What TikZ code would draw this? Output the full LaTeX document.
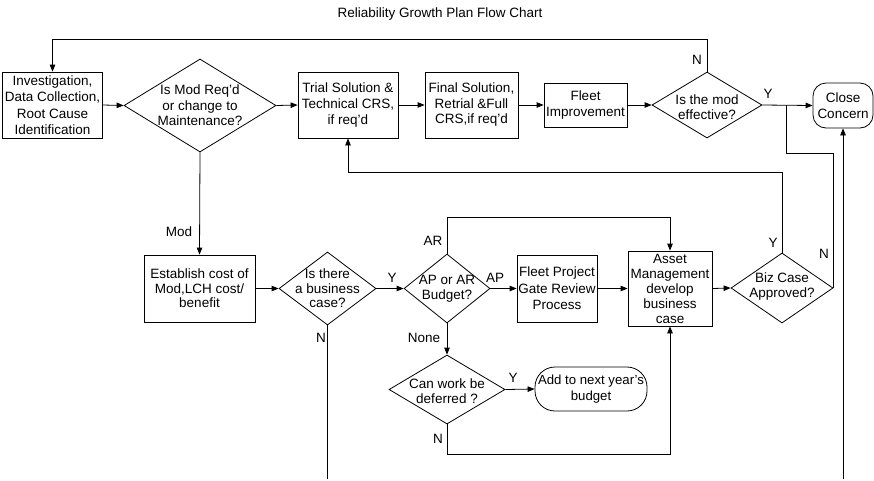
\documentclass[tikz,border=0pt]{standalone}
\usepackage{fontspec}
\setmainfont{Liberation Sans}
\usetikzlibrary{arrows.meta,shapes.geometric}

\tikzset{
  base/.style={font=\fontsize{13.5}{15.5}\selectfont, text=black},
  box/.style={base, draw, line width=0.8pt, rectangle, inner sep=0pt, align=center},
  term/.style={box, rounded corners=#1},
  dia/.style={draw, line width=0.8pt, diamond, inner sep=0pt},
  dtext/.style={base, align=center, inner sep=0pt},
  lbl/.style={base, inner sep=0pt},
  link/.style={draw, line width=0.8pt},
  arr/.style={link, -{Triangle[length=7pt,width=5.5pt]}},
}

\begin{document}
\begin{tikzpicture}[x=1pt,y=-1pt]
\useasboundingbox (0,0) rectangle (874,480);

\node[lbl] (title) at (440,14) {Reliability Growth Plan Flow Chart};

% top row
\node[box, minimum width=100pt, minimum height=66pt, font=\fontsize{13.5}{16.5}\selectfont] (inv) at (52.5,105)
  {Investigation,\\Data Collection,\\Root Cause\\Identification};
\node[dia, minimum width=152pt, minimum height=93pt] (d1) at (200,105.5) {};
\node[dtext] (d1t) at (d1) {Is Mod Req'd\\or change to\\Maintenance?};
\node[box, minimum width=100pt, minimum height=66pt, font=\fontsize{13.5}{16}\selectfont] (trial) at (348,105)
  {Trial Solution \&\\Technical CRS,\\if req'd};
\node[box, minimum width=93pt, minimum height=66pt] (final) at (471.5,105)
  {Final Solution,\\Retrial \&Full\\CRS,if req'd};
\node[box, minimum width=83pt, minimum height=44pt] (fleet) at (585.5,105)
  {Fleet\\Improvement};
\node[dia, minimum width=110pt, minimum height=66pt] (eff) at (707,105) {};
\node[dtext] (efft) at (707,107) {Is the mod\\effective?};
\node[term=13pt, minimum width=60pt, minimum height=45pt] (close) at (843,105.5)
  {Close\\Concern};

% middle row
\node[box, minimum width=111pt, minimum height=67pt, font=\fontsize{13.5}{14.5}\selectfont] (est) at (199.5,288.5)
  {Establish cost of\\Mod,LCH cost/\\benefit};
\node[dia, minimum width=97pt, minimum height=73pt] (biz) at (327.5,288.5) {};
\node[dtext, font=\fontsize{13.5}{14.5}\selectfont] (bizt) at (biz) {Is there\\a business\\case?};
\node[dia, minimum width=86pt, minimum height=69pt] (apar) at (447,288.5) {};
\node[dtext] (apart) at (447,288.5) {AP or AR\\Budget?};
\node[box, minimum width=80pt, minimum height=67pt, font=\fontsize{13.5}{16.5}\selectfont] (fpg) at (557,288.5)
  {Fleet Project\\Gate Review\\Process};
\node[box, minimum width=84pt, minimum height=75pt, font=\fontsize{13.5}{15}\selectfont] (asset) at (670,288.5)
  {Asset\\Management\\develop\\business\\case};
\node[dia, minimum width=102pt, minimum height=70pt] (bca) at (782,288) {};
\node[dtext] (bcat) at (782,286.5) {Biz Case\\Approved?};

% bottom row
\node[dia, minimum width=116pt, minimum height=69pt] (defer) at (447,389.5) {};
\node[dtext] (defert) at (447,391) {Can work be\\deferred ?};
\node[term=20pt, minimum width=112pt, minimum height=44pt, font=\fontsize{13.2}{15.5}\selectfont] (add) at (591,389)
  {Add to next year's\\budget};

% guide coordinates for routed connectors
\coordinate (topy) at (0,39);
\coordinate (ary) at (0,217);
\coordinate (tby) at (0,172);
\coordinate (nby) at (0,153);
\coordinate (dfy) at (0,454);
\coordinate (join) at (786,105);
\coordinate (bizend) at (327.5,479);
\coordinate (closeend) at (843,479);

% connectors
\draw[arr] (inv.east) -- (d1.west);
\draw[arr] (d1.east) -- (trial.west);
\draw[arr] (trial.east) -- (final.west);
\draw[arr] (final.east) -- (fleet.west);
\draw[arr] (fleet.east) -- (eff.west);
\draw[arr] (eff.east) -- (close.west);
\draw[arr] (eff.north) -- (eff.north |- topy) -| (inv.north);
\draw[arr] (d1.south) -- (est.north);
\draw[arr] (est.east) -- (biz.west);
\draw[arr] (biz.east) -- (apar.west);
\draw[link] (biz.south) -- (bizend);
\draw[arr] (apar.east) -- (fpg.west);
\draw[arr] (apar.north) -- (apar.north |- ary) -| (asset.north);
\draw[arr] (fpg.east) -- (asset.west);
\draw[arr] (asset.east) -- (bca.west);
\draw[arr] (apar.south) -- (defer.north);
\draw[arr] (defer.east) -- (add.west);
\draw[arr] (defer.south) -- (defer.south |- dfy) -| (asset.south);
\draw[arr] (bca.north) -- (bca.north |- tby) -| (trial.south);
\draw[link] (bca.east) -- (bca.east |- nby) -| (join);
\draw[arr] (closeend) -- (close.south);

% branch labels
\node[lbl] (lN1) at (697,60) {N};
\node[lbl] (lY1) at (768,94) {Y};
\node[lbl] (lMod) at (179,232) {Mod};
\node[lbl] (lY2) at (392,278) {Y};
\node[lbl] (lN2) at (321,338) {N};
\node[lbl] (lAR) at (433,241) {AR};
\node[lbl] (lAP) at (495,278) {AP};
\node[lbl] (lNone) at (424,338) {None};
\node[lbl] (lY3) at (513,378) {Y};
\node[lbl] (lN3) at (438,439) {N};
\node[lbl] (lY4) at (773,243) {Y};
\node[lbl] (lN4) at (824,254) {N};
\end{tikzpicture}
\end{document}
